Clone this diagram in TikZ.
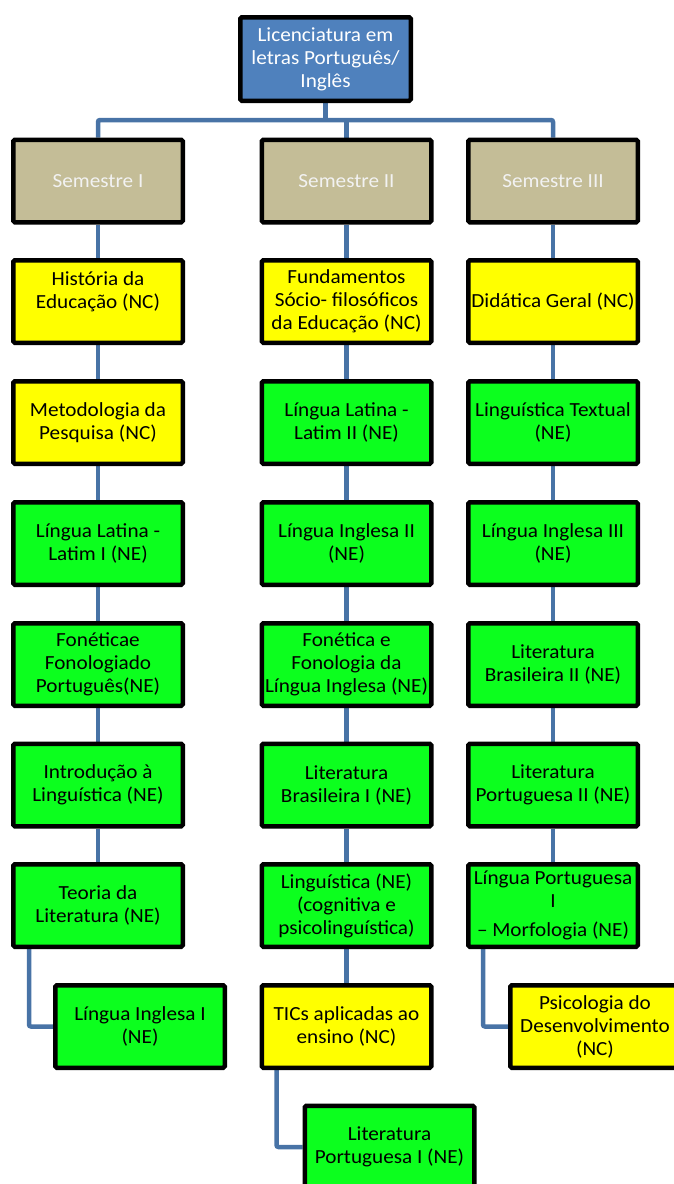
\documentclass[tikz,border=0pt]{standalone}
\usepackage{fontspec}
\setmainfont{Carlito}[FakeStretch=1.06]
\usetikzlibrary{positioning}
\usetikzlibrary{backgrounds}
\definecolor{headblue}{RGB}{79,129,189}
\definecolor{semtan}{RGB}{196,189,151}
\definecolor{ncyellow}{RGB}{255,255,0}
\definecolor{negreen}{RGB}{12,255,30}
\definecolor{linkblue}{RGB}{72,115,166}

\tikzset{
  box/.style={draw=black, line width=4.5pt, rounded corners=1.5pt,
    minimum width=169.5pt, minimum height=82.5pt, inner sep=1pt,
    align=center, font=\fontsize{20}{23}\selectfont},
  headbox/.style={box, fill=headblue, text=white, minimum width=170.5pt, minimum height=83.5pt},
  sembox/.style={box, fill=semtan, text=white!95!black},
  ncbox/.style={box, fill=ncyellow},
  nebox/.style={box, fill=negreen},
  link/.style={draw=linkblue, line width=4.5pt, rounded corners=2pt}
}

\begin{document}
\begin{tikzpicture}[x=1pt,y=-1pt]
    \useasboundingbox (0,0) rectangle (674,1184);

    % topo e semestres
    \node[headbox] (lic) at (325.5,59) {Licenciatura em\\letras Português/\\Inglês};
    \node[sembox] (sem1) at (98,181) {Semestre I};
    \node[sembox] (sem2) at (346.5,181) {Semestre II};
    \node[sembox] (sem3) at (553,181) {Semestre III};

    % semestre I
    \node[ncbox] (d11) at (98,301.5) {História da\\Educação (NC)\\\mbox{}};
    \node[ncbox] (d12) at (98,422.5) {Metodologia da\\Pesquisa (NC)};
    \node[nebox] (d13) at (98,543.5) {Língua Latina -\\Latim I (NE)};
    \node[nebox] (d14) at (98,664.5) {Fonéticae\\Fonologiado\\Português(NE)};
    \node[nebox] (d15) at (98,785) {Introdução à\\Linguística (NE)};
    \node[nebox] (d16) at (98,905.5) {Teoria da\\Literatura (NE)};
    \node[nebox] (d17) at (140,1026.5) {Língua Inglesa I\\(NE)};

    % semestre II
    \node[ncbox] (d21) at (346.5,301.5) {Fundamentos\\Sócio- filosóficos\\da Educação (NC)};
    \node[nebox] (d22) at (346.5,422.5) {Língua Latina -\\Latim II (NE)};
    \node[nebox] (d23) at (346.5,543.5) {Língua Inglesa II\\(NE)};
    \node[nebox] (d24) at (346.5,664.5) {Fonética e\\Fonologia da\\Língua Inglesa (NE)};
    \node[nebox] (d25) at (346.5,785) {Literatura\\Brasileira I (NE)};
    \node[nebox] (d26) at (346.5,905.5) {Linguística (NE)\\(cognitiva e\\psicolinguística)};
    \node[ncbox] (d27) at (346.5,1026.5) {TICs aplicadas ao\\ensino (NC)};
    \node[nebox] (d28) at (389.5,1147) {Literatura\\Portuguesa I (NE)};

    % semestre III
    \node[ncbox] (d31) at (553,301.5) {Didática Geral (NC)};
    \node[nebox] (d32) at (553,422.5) {Linguística Textual\\(NE)};
    \node[nebox] (d33) at (553,543.5) {Língua Inglesa III\\(NE)};
    \node[nebox] (d34) at (553,664.5) {Literatura\\Brasileira II (NE)};
    \node[nebox] (d35) at (553,785) {Literatura\\Portuguesa II (NE)};
    \node[nebox] (d36) at (553,905.5) {Língua Portuguesa\\I\\[6pt]– Morfologia (NE)};
    \node[ncbox] (d37) at (595,1026.5) {Psicologia do\\Desenvolvimento\\(NC)};

    % ligacoes
    \begin{scope}[on background layer]
        \draw[link] (lic.south) -- ++(0,17) coordinate (bus);
        \draw[link] (sem1.north) |- (bus) -| (sem3.north);
        \draw[link] (sem2.north) -- (sem2.north |- bus);
        \draw[link] (sem1) -- (d11) -- (d12) -- (d13) -- (d14) -- (d15) -- (d16);
        \draw[link] (sem2) -- (d21) -- (d22) -- (d23) -- (d24) -- (d25) -- (d26) -- (d27);
        \draw[link] (sem3) -- (d31) -- (d32) -- (d33) -- (d34) -- (d35) -- (d36);
        \draw[link] ([xshift=18pt]d16.south west) |- (d17.west);
        \draw[link] ([xshift=17pt]d27.south west) |- (d28.west);
        \draw[link] ([xshift=17pt]d36.south west) |- (d37.west);
    \end{scope}
\end{tikzpicture}
\end{document}
